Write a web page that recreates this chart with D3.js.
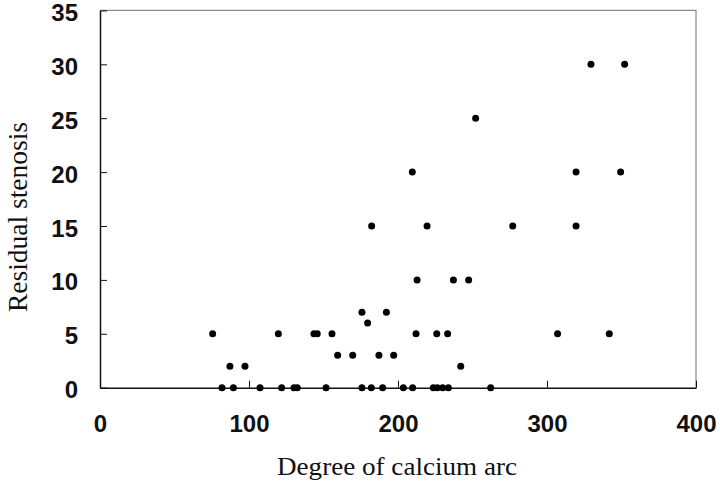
<!DOCTYPE html>
<html>
<head>
<meta charset="utf-8">
<script src="https://cdn.jsdelivr.net/npm/d3@7"></script>
<style>
  body { margin: 0; background: #fff; }
  .tick text { font-family: "Liberation Sans", Arial, sans-serif; font-weight: bold; font-size: 24px; fill: #111; }
  .title { font-family: "Liberation Serif", "Times New Roman", serif; fill: #111; }
</style>
</head>
<body>
<script>
// degree of calcium arc / residual stenosis
var arcDeg = [81.9, 89.5, 107.4, 121.9, 130.2, 132.4, 151.7, 175.8, 182.1, 189.7, 203.6, 209.8, 223.7, 226.4, 230, 233.8, 262.2,
              87.2, 97.3, 242.1,
              159.5, 169.6, 187.2, 197.1,
              75.6, 119.7, 143.6, 145.8, 155.7, 212.1, 226, 233.3, 307.1, 341.8,
              179.6,
              175.8, 192.2,
              212.8, 237.2, 247.4,
              182.3, 219.5, 277, 319.5,
              209.6, 319.5, 349.4,
              252.1,
              329.5, 352.1]
var stenosis = [0, 0, 0, 0, 0, 0, 0, 0, 0, 0, 0, 0, 0, 0, 0, 0, 0,
                2, 2, 2,
                3, 3, 3, 3,
                5, 5, 5, 5, 5, 5, 5, 5, 5, 5,
                6,
                7, 7,
                10, 10, 10,
                15, 15, 15, 15,
                20, 20, 20,
                25,
                30, 30]
var xTicks = [0, 100, 200, 300, 400]
var yTicks = [0, 5, 10, 15, 20, 25, 30, 35]

var width = 720, height = 486
var margin = {top: 10.4, right: 24, bottom: 98.3, left: 100}

var svg = d3.select("body").append("svg")
  .attr("width", width)
  .attr("height", height)

var x = d3.scaleLinear().domain([0, 400]).range([margin.left, width - margin.right])
var y = d3.scaleLinear().domain([0, 35]).range([height - margin.bottom, margin.top])

// grey frame top + right
svg.append("path")
  .attr("d", "M" + x(0) + "," + y(35) + "H" + x(400) + "V" + y(0))
  .attr("fill", "none")
  .attr("stroke", "#8a8a8a")
  .attr("stroke-width", 1.2)

var gx = svg.append("g")
  .attr("transform", "translate(0," + y(0) + ")")
  .call(d3.axisBottom(x).tickValues(xTicks).tickSizeInner(-7).tickSizeOuter(0).tickPadding(27))
gx.select(".domain").attr("stroke", "#111").attr("stroke-width", 1.5)
gx.selectAll(".tick line").attr("stroke", "#111")

var gy = svg.append("g")
  .attr("transform", "translate(" + x(0) + ",0)")
  .call(d3.axisLeft(y).tickValues(yTicks).tickSizeInner(-7).tickSizeOuter(0).tickPadding(22))
gy.select(".domain").attr("stroke", "#111").attr("stroke-width", 1.5)
gy.selectAll(".tick line").attr("stroke", "#111")
gy.selectAll(".tick text").attr("dy", "0.42em")

svg.append("g")
  .selectAll("circle")
  .data(arcDeg)
  .enter()
  .append("circle")
  .attr("cx", d => x(d))
  .attr("cy", (d, i) => y(stenosis[i]))
  .attr("r", 3.5)
  .attr("fill", "#000")

svg.append("text")
  .attr("class", "title")
  .attr("x", 397)
  .attr("y", 475)
  .attr("text-anchor", "middle")
  .attr("font-size", 26)
  .attr("textLength", 240)
  .attr("lengthAdjust", "spacingAndGlyphs")
  .text("Degree of calcium arc")

svg.append("text")
  .attr("class", "title")
  .attr("transform", "translate(27,217) rotate(-90)")
  .attr("text-anchor", "middle")
  .attr("font-size", 28)
  .attr("textLength", 190)
  .attr("lengthAdjust", "spacingAndGlyphs")
  .text("Residual stenosis")
</script>
</body>
</html>
